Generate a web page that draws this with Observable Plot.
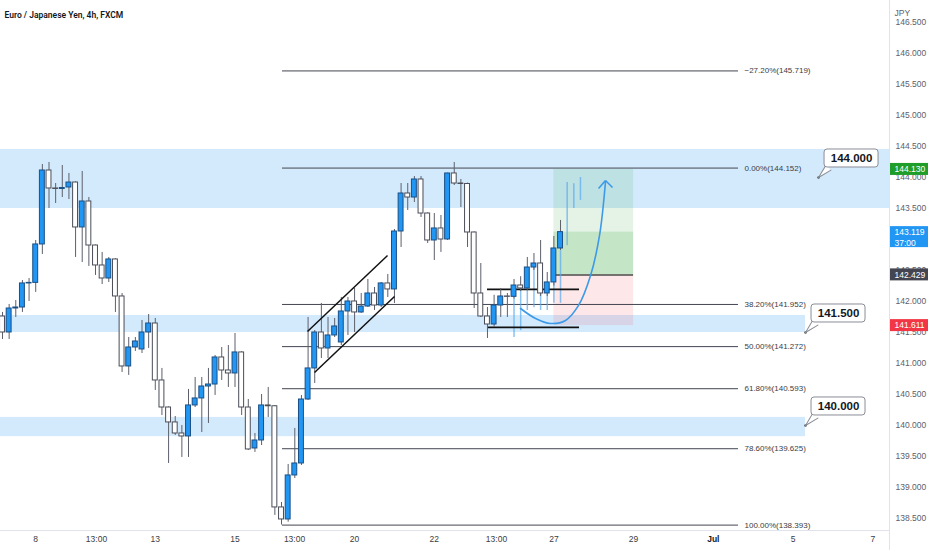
<!DOCTYPE html>
<html>
<head>
<meta charset="utf-8">
<script src="https://cdn.jsdelivr.net/npm/d3@7"></script>
<script src="https://cdn.jsdelivr.net/npm/@observablehq/plot@0.6"></script>
<style>
html, body { margin: 0; padding: 0; background: #fff; }
#chart svg { display: block; }
</style>
</head>
<body>
<div id="chart"></div>
<script>
// ---------- data ----------
const title = "Euro / Japanese Yen, 4h, FXCM";

const opens = [141.758,141.500,141.887,141.903,142.291,142.300,142.920,144.113,143.823,143.815,
  143.839,143.919,143.194,143.613,142.903,142.581,142.371,142.678,142.081,140.952,
  141.258,141.226,141.500,141.645,140.726,140.290,140.049,139.871,139.823,140.323,
  140.436,140.629,140.661,141.097,140.887,140.839,141.178,140.290,139.629,139.758,
  140.323,140.310,138.678,138.484,139.194,139.387,140.419,140.920,141.500,141.242,
  141.452,141.339,141.839,142.000,141.823,141.919,142.129,141.935,142.291,142.194,
  143.129,143.742,143.677,143.968,143.419,142.984,143.178,143.000,144.065,143.903,
  143.895,143.113,142.129,141.758,141.629,141.935,142.081,142.075,142.258,142.210,
  142.548,142.613,142.129,142.307,142.855];
const highs = [141.823,141.952,142.016,142.339,142.371,142.984,144.210,144.242,143.903,144.194,
  144.065,143.930,144.097,143.677,142.910,142.791,142.710,142.690,142.129,141.419,
  141.419,141.694,141.790,141.726,140.920,140.300,140.145,140.000,140.581,140.774,
  140.774,140.920,141.129,141.258,141.290,141.484,141.190,140.419,139.871,140.500,
  140.613,140.320,138.758,139.371,139.952,140.484,141.742,141.532,141.968,141.742,
  141.726,142.065,142.065,142.210,142.129,142.355,142.226,142.307,142.436,143.161,
  143.903,143.903,144.016,144.016,143.430,143.419,143.387,144.070,144.242,143.968,
  143.910,143.120,142.613,141.903,142.100,142.210,142.129,142.355,142.400,142.710,
  142.774,142.984,142.468,143.049,143.307];
const lows = [141.387,141.387,141.742,141.823,142.000,142.146,142.758,143.500,143.581,143.677,
  143.645,142.710,142.629,142.565,142.420,142.274,142.307,141.823,140.855,140.807,
  141.194,141.161,141.242,140.565,140.161,139.387,139.839,139.484,139.484,140.290,
  139.887,140.032,140.484,140.726,140.613,140.613,140.161,139.597,139.565,139.677,
  140.129,138.549,138.393,138.440,139.145,139.355,140.403,140.677,141.081,141.081,
  141.419,141.290,141.452,141.500,141.807,141.903,141.855,141.903,142.065,141.968,
  142.871,143.468,143.597,143.355,142.936,142.661,142.791,142.984,143.871,143.516,
  142.871,141.887,141.742,141.403,141.581,141.742,141.742,142.040,142.160,142.180,
  142.500,142.080,142.080,142.250,142.823];
const closes = [141.500,141.887,141.903,142.291,142.300,142.920,144.113,143.823,143.815,143.830,
  143.919,143.194,143.613,142.903,142.581,142.371,142.678,142.081,140.952,141.258,
  141.355,141.500,141.645,140.726,140.290,140.049,139.871,139.823,140.323,140.436,
  140.629,140.661,141.097,140.887,140.839,141.178,140.290,139.613,139.758,140.323,
  140.310,138.678,138.484,139.194,139.387,140.419,140.920,141.500,141.242,141.452,
  141.597,141.839,142.000,141.823,141.919,142.129,141.935,142.291,142.194,143.129,
  143.742,143.677,143.968,143.419,142.984,143.178,143.000,144.065,143.903,143.895,
  143.113,142.129,141.758,141.629,141.935,142.081,142.075,142.258,142.210,142.548,
  142.613,142.129,142.307,142.855,143.119];

// projected ("ghost") bars drawn in light blue
const ghostBars = [78, 79, 80, 81, 82, 83, 84, 85, 86, 87, 88];
const ghostLow  = [141.42, 141.53, 141.855, 141.90, 141.855, 141.855, 141.97, 141.97, 142.90, 143.50, 143.63];
const ghostHigh = [142.06, 142.20, 142.20, 142.55, 142.12, 142.12, 142.30, 142.82, 143.92, 143.90, 144.00];

// support / resistance zones
const zoneLow  = [143.50, 141.50, 139.82];
const zoneHigh = [144.452, 141.774, 140.13];
const zoneEnd  = [134.52, 121.88, 121.88];

// callouts
const calloutBar   = [123.84, 121.88, 121.88];
const calloutPrice = [144.0, 141.5, 140.0];
const calloutText  = ["144.000", "141.500", "140.000"];

// Fibonacci retracement
const fibLevels = ["\u221227.20%", "0.00%", "38.20%", "50.00%", "61.80%", "78.60%", "100.00%"];
const fibPrices = [145.719, 144.152, 141.952, 141.272, 140.593, 139.625, 138.393];
const fibStart = 43.15, fibEnd = 111.79, fibLabelAt = 112.69;

// long position tool
const longStart = 84, longEnd = 96;
const takeProfit = 144.130, entryPrice = 142.429, stopLoss = 141.611, lastPrice = 143.119;

// drawings
const channelX1 = [46.91, 47.97], channelY1 = [141.516, 140.855];
const channelX2 = [58.96, 60.01], channelY2 = [142.742, 142.081];
const rangePrices = [142.194, 141.581], rangeStart = 74.01, rangeEnd = 87.86;
const arrowBars   = [78.98, 81.24, 83.49, 85.75, 87.71, 89.52, 90.87, 91.77];
const arrowPrices = [141.887, 141.726, 141.645, 141.694, 141.936, 142.419, 143.065, 143.936];
const arrowTip = [91.77, 143.952];
const arrowArmBars = [90.72, 92.83], arrowArmPrices = [143.823, 143.839];

// axes (143.000 sits fully under the live-price tag, so it is not listed)
const yTicks = [138.5, 139.0, 139.5, 140.0, 140.5, 141.0, 141.5, 142.0, 142.5,
  143.5, 144.0, 144.5, 145.0, 145.5, 146.0, 146.5];
const xTickPos    = [6, 15.15, 24, 36, 44.96, 54, 66, 75.36, 84, 96, 108, 120, 132];
const xTickLabels = ["8", "13:00", "13", "15", "13:00", "20", "22", "13:00", "27", "29", "Jul", "5", "7"];

// price tags on the right axis
const tagPrices = [144.130, 141.611, 142.429];
const tagTexts  = ["144.130", "141.611", "142.429"];
const tagColors = ["#1f9d29", "#f23645", "#434651"];

// ---------- derived tables ----------
const xDomain = [0.699, 134.52];
const yDomain = [138.306, 146.855];
const candles = opens.map((o, k) => ({i: k + 1, o, h: highs[k], l: lows[k], c: closes[k]}));
const up = candles.filter(d => d.c >= d.o);
const down = candles.filter(d => d.c < d.o);
const ghosts = ghostBars.map((b, k) => ({b, lo: ghostLow[k], hi: ghostHigh[k]}));
const zones = zoneLow.map((lo, k) => ({lo, hi: zoneHigh[k], end: zoneEnd[k]}));
const callouts = calloutBar.map((b, k) => ({b, p: calloutPrice[k], t: calloutText[k]}));
const fibs = fibPrices.map((p, k) => ({p, t: `${fibLevels[k]}(${p.toFixed(3)})`}));
const channels = channelX1.map((x, k) => ({x1: x, y1: channelY1[k], x2: channelX2[k], y2: channelY2[k]}));
const arrowPts = arrowBars.map((b, k) => ({b, p: arrowPrices[k]}));
const arms = arrowArmBars.map((b, k) => ({b, p: arrowArmPrices[k]}));
const xticks = xTickPos.map((x, k) => ({x, t: xTickLabels[k]}));
const tags = tagPrices.map((p, k) => ({p, t: tagTexts[k], c: tagColors[k]}));
const longBox = [{x1: longStart, x2: longEnd}];
const xR = xDomain[1];

const openTail = {draw(context, l, r) { context.moveTo(-r, 0); context.lineTo(0, -l); context.lineTo(r, 0); }};

const FONT = "'Liberation Sans', Arial, sans-serif";

const plot = Plot.plot({
  width: 932,
  height: 550,
  marginLeft: 0,
  marginRight: 43,
  marginTop: 0,
  marginBottom: 20,
  x: {domain: xDomain, axis: null},
  y: {domain: yDomain, axis: null},
  color: {type: "identity"},
  style: {fontFamily: FONT, background: "#fff", overflow: "visible"},
  marks: [
    Plot.rect(zones, {x1: xDomain[0], x2: "end", y1: "lo", y2: "hi", fill: "#2196f3", fillOpacity: 0.2}),
    Plot.rect(longBox, {x1: "x1", x2: "x2", y1: entryPrice, y2: takeProfit, fill: "#4caf50", fillOpacity: 0.15}),
    Plot.rect(longBox, {x1: "x1", x2: "x2", y1: entryPrice, y2: lastPrice, fill: "#4caf50", fillOpacity: 0.2}),
    Plot.rect(longBox, {x1: "x1", x2: "x2", y1: stopLoss, y2: entryPrice, fill: "#f23645", fillOpacity: 0.12}),
    Plot.ruleY([entryPrice], {x1: longStart, x2: longEnd, stroke: "#4a4a4a", strokeWidth: 1.5}),
    Plot.ruleY(fibs, {y: "p", x1: fibStart, x2: fibEnd, stroke: "#434651", strokeWidth: 1}),
    Plot.text(fibs, {x: fibLabelAt, y: "p", text: "t", textAnchor: "start", fontSize: 8, fill: "#3a3d45"}),
    Plot.ruleX(ghosts, {x: "b", y1: "lo", y2: "hi", stroke: "#5aa9f0", strokeOpacity: 0.7, strokeWidth: 1.5}),
    Plot.ruleY(rangePrices, {x1: rangeStart, x2: rangeEnd, stroke: "#111", strokeWidth: 1.8}),
    Plot.ruleX(candles, {x: "i", y1: "l", y2: "h", stroke: "#5d606b", strokeWidth: 1}),
    Plot.rect(down, {x1: d => d.i - 0.37, x2: d => d.i + 0.37, y1: "o", y2: "c", fill: "#ffffff", stroke: "#4a4d57", strokeWidth: 1}),
    Plot.rect(up, {x1: d => d.i - 0.37, x2: d => d.i + 0.37, y1: "o", y2: "c", fill: "#2196f3", stroke: "#1a4f86", strokeWidth: 1}),
    Plot.link(channels, {x1: "x1", y1: "y1", x2: "x2", y2: "y2", stroke: "#111", strokeWidth: 1.5}),
    Plot.line(arrowPts, {x: "b", y: "p", curve: "catmull-rom", stroke: "#3d9ae8", strokeWidth: 1.6}),
    Plot.link(arms, {x1: arrowTip[0], y1: arrowTip[1], x2: "b", y2: "p", stroke: "#3d9ae8", strokeWidth: 1.6}),
    Plot.dot(callouts, {x: "b", y: "p", r: 1.3, fill: "#555"}),
    Plot.vector(callouts, {x: "b", y: "p", rotate: 225, length: 14, anchor: "end", shape: openTail, r: 3.5, stroke: "#8a8d96", fill: "#fff", strokeWidth: 1}),
    Plot.rect(callouts, {x1: "b", x2: "b", y1: "p", y2: "p", dx: 33, dy: -19, insetLeft: -27, insetRight: -27, insetTop: -9, insetBottom: -9, fill: "#fff", stroke: "#8a8d96", strokeWidth: 1, rx: 3}),
    Plot.text(callouts, {x: "b", y: "p", text: "t", dx: 33, dy: -19, fontSize: 11.5, fontWeight: "bold", fill: "#131722"}),
    Plot.ruleX([xR], {stroke: "#e0e3eb", insetBottom: -20}),
    Plot.ruleY([yDomain[0]], {stroke: "#e0e3eb"}),
    Plot.axisY(yTicks, {anchor: "right", tickSize: 0, tickPadding: 6, tickFormat: d => d.toFixed(3), fontSize: 8.5, color: "#5d606b", label: null}),
    Plot.text(["JPY"], {x: xR, frameAnchor: "top", dx: 5, dy: 9, text: d => d, textAnchor: "start", fontSize: 8.5, fill: "#5d606b"}),
    Plot.rect(tags, {x1: xR, x2: xR, y1: "p", y2: "p", insetLeft: 1, insetRight: -39, insetTop: -6, insetBottom: -6, fill: "c"}),
    Plot.text(tags, {x: xR, y: "p", text: "t", dx: 5, textAnchor: "start", fontSize: 8.5, fill: "#fff"}),
    Plot.rect([lastPrice], {x1: xR, x2: xR, y1: d => d, y2: d => d, insetLeft: 1, insetRight: -39, insetTop: -5.5, insetBottom: -15.5, fill: "#2196f3"}),
    Plot.text([lastPrice], {x: xR, y: d => d, text: d => `${d.toFixed(3)}\n37:00`, dx: 5, dy: -4, lineAnchor: "top", lineHeight: 1.2, textAnchor: "start", fontSize: 8.5, fill: "#fff"}),
    Plot.text(xticks.filter(d => d.t !== "Jul"), {x: "x", text: "t", frameAnchor: "bottom", dy: 11, fontSize: 8.5, fill: "#3a3d45"}),
    Plot.text(xticks.filter(d => d.t === "Jul"), {x: "x", text: "t", frameAnchor: "bottom", dy: 11, fontSize: 8.5, fontWeight: "bold", fill: "#131722"}),
    Plot.text([title], {frameAnchor: "top-left", dx: 4, dy: 11, text: d => d, textAnchor: "start", fontSize: 8.5, fontWeight: 600, fill: "#131722", fontFamily: "Roboto, 'Liberation Sans', sans-serif"})
  ]
});
document.getElementById("chart").append(plot);
</script>
</body>
</html>
